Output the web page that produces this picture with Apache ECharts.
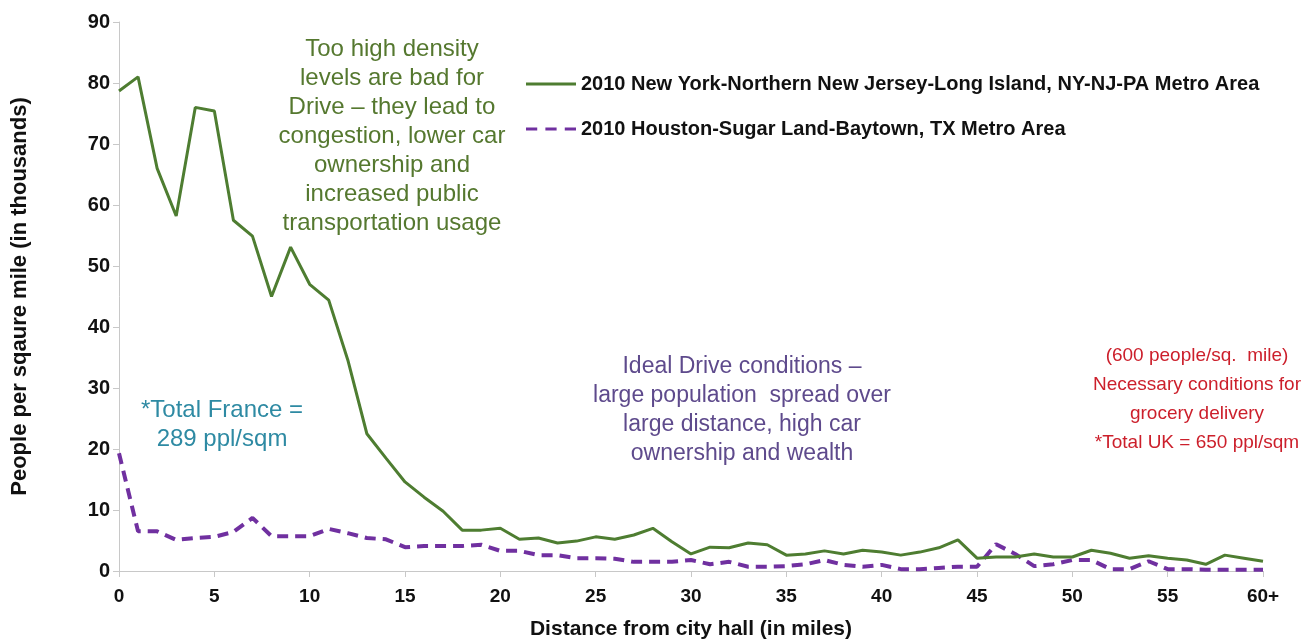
<!DOCTYPE html>
<html>
<head>
<meta charset="utf-8">
<title>Population density by distance from city hall</title>
<script src="https://cdn.jsdelivr.net/npm/echarts@6/dist/echarts.min.js"></script>
<style>
  html, body { margin: 0; padding: 0; background: #fff; }
  #chart { width: 1304px; height: 639px; }
</style>
</head>
<body>
<div id="chart"></div>
<script>
// Distance from city hall, in miles (last bucket is 60 and beyond)
const distances = [];
for (let i = 0; i <= 60; i++) distances.push(i === 60 ? '60+' : String(i));

// People per square mile, in thousands
const newYork = [
  78.7, 81.0, 66.0, 58.2, 76.0, 75.4, 57.5, 54.9, 45.0, 53.1,
  47.0, 44.4, 34.6, 22.5, 18.5, 14.6, 12.1, 9.8, 6.7, 6.7,
  7.0, 5.2, 5.4, 4.6, 4.9, 5.6, 5.2, 5.9, 7.0, 4.8,
  2.8, 3.9, 3.8, 4.6, 4.3, 2.6, 2.8, 3.3, 2.8, 3.4,
  3.1, 2.6, 3.1, 3.8, 5.1, 2.1, 2.3, 2.3, 2.8, 2.3,
  2.3, 3.4, 2.9, 2.1, 2.5, 2.1, 1.8, 1.1, 2.6, 2.1,
  1.6
];
const houston = [
  19.3, 6.5, 6.5, 5.1, 5.4, 5.6, 6.4, 8.7, 5.7, 5.7,
  5.7, 6.9, 6.2, 5.4, 5.2, 3.9, 4.1, 4.1, 4.1, 4.3,
  3.3, 3.3, 2.6, 2.6, 2.1, 2.1, 2.0, 1.5, 1.5, 1.5,
  1.8, 1.1, 1.5, 0.7, 0.7, 0.8, 1.1, 1.8, 1.0, 0.7,
  1.0, 0.3, 0.3, 0.5, 0.7, 0.7, 4.4, 2.8, 0.8, 1.1,
  1.8, 1.8, 0.3, 0.3, 1.6, 0.3, 0.3, 0.2, 0.2, 0.2,
  0.2
];

const seriesNames = [
  '2010 New York-Northern New Jersey-Long Island, NY-NJ-PA Metro Area',
  '2010 Houston-Sugar Land-Baytown, TX Metro Area'
];

const noteDensity = ['Too high density', 'levels are bad for', 'Drive \u2013 they lead to',
  'congestion, lower car', 'ownership and', 'increased public', 'transportation usage'];
const noteIdeal = ['Ideal Drive conditions \u2013', 'large population  spread over',
  'large distance, high car', 'ownership and wealth'];
const noteFrance = ['*Total France =', '289 ppl/sqm'];
const noteGrocery = ['(600 people/sq.  mile)', 'Necessary conditions for',
  'grocery delivery', '*Total UK = 650 ppl/sqm'];

const GREEN = '#4e7d31';
const PURPLE = '#7030a0';
const textFont = 'Liberation Sans, Arial, sans-serif';
const narrowBold = '"Liberation Sans Narrow", "Liberation Sans", Arial, sans-serif';

// Legend keys: a solid bar and three dashes
const SOLID_KEY = 'path://M0,0h50v3h-50z';
const DASHED_KEY = 'path://M0,0h11v3h-11z M19,0h11v3h-11z M38,0h11v3h-11z';

// Centred multi-line annotation; (cx, top) is the centre of the first line's top edge
function note(lines, cx, top, color, size) {
  return {
    type: 'text',
    x: cx,
    y: top,
    style: {
      text: lines.join('\n'),
      fill: color,
      font: size + 'px ' + textFont,
      lineHeight: 29,
      align: 'center',
      verticalAlign: 'top'
    }
  };
}

const chart = echarts.init(document.getElementById('chart'));
chart.setOption({
  animation: false,
  backgroundColor: '#ffffff',
  grid: { left: 119, right: 41, top: 22, bottom: 68, containLabel: false, outerBoundsMode: 'none' },
  legend: {
    orient: 'vertical',
    left: 521,
    top: 69,
    itemGap: 25,
    itemWidth: 50,
    itemHeight: 3.5,
    data: [
      { name: seriesNames[0], icon: SOLID_KEY },
      { name: seriesNames[1], icon: DASHED_KEY }
    ],
    textStyle: { fontFamily: narrowBold, fontWeight: 'bold', fontSize: 20, color: '#111' }
  },
  xAxis: {
    type: 'category',
    data: distances,
    boundaryGap: false,
    name: 'Distance from city hall (in miles)',
    nameLocation: 'middle',
    nameGap: 48,
    nameTextStyle: { fontFamily: narrowBold, fontWeight: 'bold', fontSize: 21, color: '#111' },
    axisLine: { lineStyle: { color: '#c8c8c8', width: 1 } },
    axisTick: { interval: 4, length: 6, lineStyle: { color: '#c8c8c8' } },
    axisLabel: {
      interval: 4,
      margin: 16,
      fontFamily: textFont,
      fontWeight: 'bold',
      fontSize: 19,
      color: '#111'
    },
    splitLine: { show: false }
  },
  yAxis: {
    type: 'value',
    min: 0,
    max: 90,
    interval: 10,
    name: 'People per sqaure mile (in thousands)',
    nameLocation: 'middle',
    nameGap: 88,
    nameRotate: 90,
    nameTextStyle: { fontFamily: textFont, fontWeight: 'bold', fontSize: 22, color: '#111' },
    axisLine: { show: true, lineStyle: { color: '#c8c8c8', width: 1 } },
    axisTick: { show: true, length: 6, lineStyle: { color: '#c8c8c8' } },
    axisLabel: { margin: 9, fontFamily: textFont, fontWeight: 'bold', fontSize: 20, color: '#111' },
    splitLine: { show: false }
  },
  series: [
    {
      name: seriesNames[0],
      type: 'line',
      data: newYork,
      symbol: 'none',
      lineStyle: { color: GREEN, width: 3 },
      itemStyle: { color: GREEN },
      z: 3
    },
    {
      name: seriesNames[1],
      type: 'line',
      data: houston,
      symbol: 'none',
      lineStyle: { color: PURPLE, width: 4, type: [11, 7] },
      itemStyle: { color: PURPLE },
      z: 2
    }
  ],
  graphic: [
    note(noteDensity, 392, 35, '#55782f', 24),
    note(noteIdeal, 742, 352, '#5e4a8c', 23),
    note(noteFrance, 222, 396, '#2e8aa3', 24),
    note(noteGrocery, 1197, 341, '#cc1f2b', 19)
  ]
});
</script>
</body>
</html>
